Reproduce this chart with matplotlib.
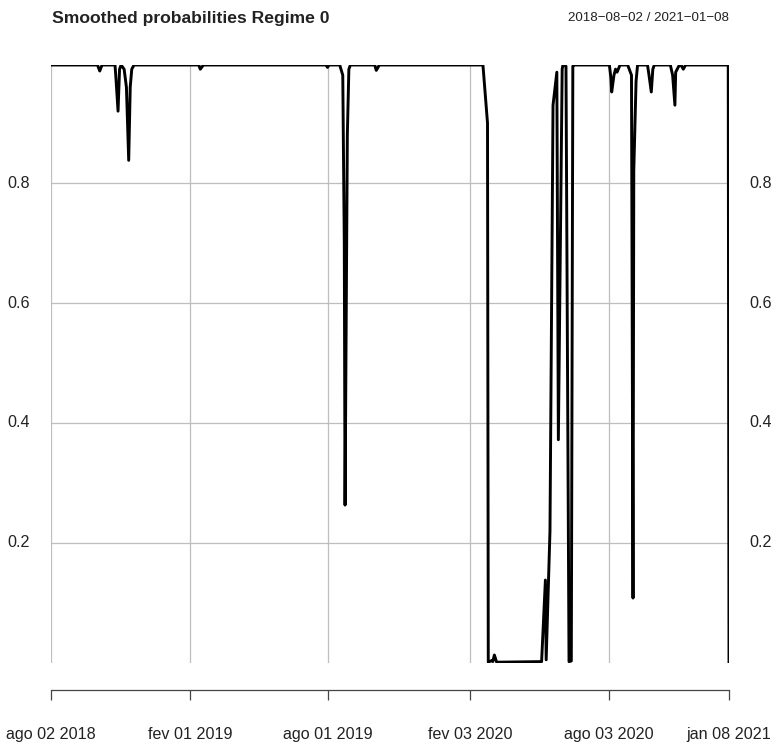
import matplotlib
matplotlib.use("Agg")
import matplotlib.pyplot as plt
import pandas as pd

plt.rcParams['font.family'] = ['Liberation Sans', 'DejaVu Sans']

dates = ["2018-08-02", "2018-10-02", "2018-10-05", "2018-10-08", "2018-10-25",
         "2018-10-26", "2018-10-29", "2018-10-31", "2018-11-02", "2018-11-06",
         "2018-11-09", "2018-11-12", "2018-11-14", "2018-11-16", "2018-11-19",
         "2019-02-12", "2019-02-14", "2019-02-18", "2019-07-29", "2019-07-31",
         "2019-08-02", "2019-08-16", "2019-08-20", "2019-08-22", "2019-08-23",
         "2019-08-26", "2019-08-28", "2019-08-30", "2019-10-01", "2019-10-03",
         "2019-10-07", "2020-02-20", "2020-02-26", "2020-02-27", "2020-03-03",
         "2020-03-04", "2020-03-06", "2020-03-09", "2020-05-07", "2020-05-12",
         "2020-05-13", "2020-05-18", "2020-05-22", "2020-05-27", "2020-05-29",
         "2020-06-03", "2020-06-04", "2020-06-08", "2020-06-12", "2020-06-15",
         "2020-06-17", "2020-06-18", "2020-08-04", "2020-08-06", "2020-08-07",
         "2020-08-10", "2020-08-12", "2020-08-14", "2020-08-18", "2020-08-28",
         "2020-09-02", "2020-09-04", "2020-09-05", "2020-09-08", "2020-09-10",
         "2020-09-23", "2020-09-25", "2020-09-28", "2020-09-30", "2020-10-02",
         "2020-10-23", "2020-10-26", "2020-10-29", "2020-10-30", "2020-11-03",
         "2020-11-06", "2020-11-09", "2020-11-12", "2021-01-07", "2021-01-08"]

prob = [0.997, 0.997, 0.987, 0.997, 0.997,
        0.980, 0.920, 0.990, 0.997, 0.990,
        0.960, 0.838, 0.960, 0.990, 0.997,
        0.997, 0.990, 0.997, 0.997, 0.993,
        0.997, 0.997, 0.980, 0.700, 0.263,
        0.880, 0.990, 0.997, 0.997, 0.988,
        0.997, 0.997, 0.900, 0.001, 0.004,
        0.002, 0.013, 0.001, 0.002, 0.138,
        0.005, 0.220, 0.930, 0.985, 0.372,
        0.990, 0.997, 0.995, 0.002, 0.003,
        0.995, 0.997, 0.997, 0.975, 0.952,
        0.980, 0.990, 0.985, 0.997, 0.997,
        0.980, 0.108, 0.820, 0.970, 0.997,
        0.997, 0.980, 0.952, 0.990, 0.997,
        0.997, 0.980, 0.930, 0.985, 0.995,
        0.997, 0.990, 0.997, 0.997, 0.0005]

tick_dates = ["2018-08-02", "2019-02-01", "2019-08-01", "2020-02-03", "2020-08-03", "2021-01-08"]
tick_labels = ["ago 02 2018", "fev 01 2019", "ago 01 2019", "fev 03 2020", "ago 03 2020", "jan 08 2021"]
y_ticks = [0.2, 0.4, 0.6, 0.8]
y_labels = ["0.2", "0.4", "0.6", "0.8"]
title = "Smoothed probabilities Regime 0"
range_text = "2018\u221208\u221202 / 2021\u221201\u221208"

W, H = 777, 747
fig = plt.figure(figsize=(W / 100, H / 100), dpi=100)

x0, x1 = 51, 729
ytop, ybot = 65, 662.5
ax = fig.add_axes([x0 / W, 1 - ybot / H, (x1 - x0) / W, (ybot - ytop) / H])

d = pd.to_datetime(dates)
td = pd.to_datetime(tick_dates)

for t in td:
    ax.axvline(t, color="#BEBEBE", lw=0.9, zorder=1)
for yv in y_ticks:
    ax.axhline(yv, color="#BEBEBE", lw=0.9, zorder=1)

ax.plot(d, prob, color="black", lw=2.1, zorder=3, solid_joinstyle="round")
ax.set_xlim(d[0], d[-1])
ax.set_ylim(min(prob), max(prob))
for s in ax.spines.values():
    s.set_visible(False)
ax.set_xticks([])
ax.set_yticks([])

# y labels on both sides
for yv, lab in zip(y_ticks, y_labels):
    ax.text(-32.5 / (x1 - x0), yv, lab, transform=ax.get_yaxis_transform(), ha="center",
            va="center", fontsize=11.6, color="#222222")
    ax.text(1 + 31.5 / (x1 - x0), yv, lab, transform=ax.get_yaxis_transform(), ha="center",
            va="center", fontsize=11.6, color="#222222")

# separate x axis
axy = 690.5
ax2 = fig.add_axes([x0 / W, 1 - axy / H, (x1 - x0) / W, 0.001])
ax2.set_xlim(d[0], d[-1])
for k, s in ax2.spines.items():
    s.set_visible(k == "top")
ax2.spines["top"].set_color("#444444")
ax2.spines["top"].set_linewidth(0.9)
ax2.patch.set_visible(False)
ax2.set_yticks([])
ax2.xaxis.set_ticks_position("top")
ax2.set_xticks(td)
ax2.set_xticklabels(tick_labels)
ax2.tick_params(axis="x", direction="in", length=7, width=0.9, color="#444444",
                labeltop=False, labelbottom=True, labelsize=11.6, labelcolor="#222222", pad=26)
ax2.tick_params(axis="x", which="both", top=True, bottom=False)

fig.text(52 / W, 1 - 18 / H, title, ha="left", va="center", fontsize=12.6,
         fontweight="bold", color="#222222")
fig.text(729 / W, 1 - 18 / H, range_text, ha="right", va="center", fontsize=9.6,
         color="#222222")

fig.savefig("out.png", dpi=100)
